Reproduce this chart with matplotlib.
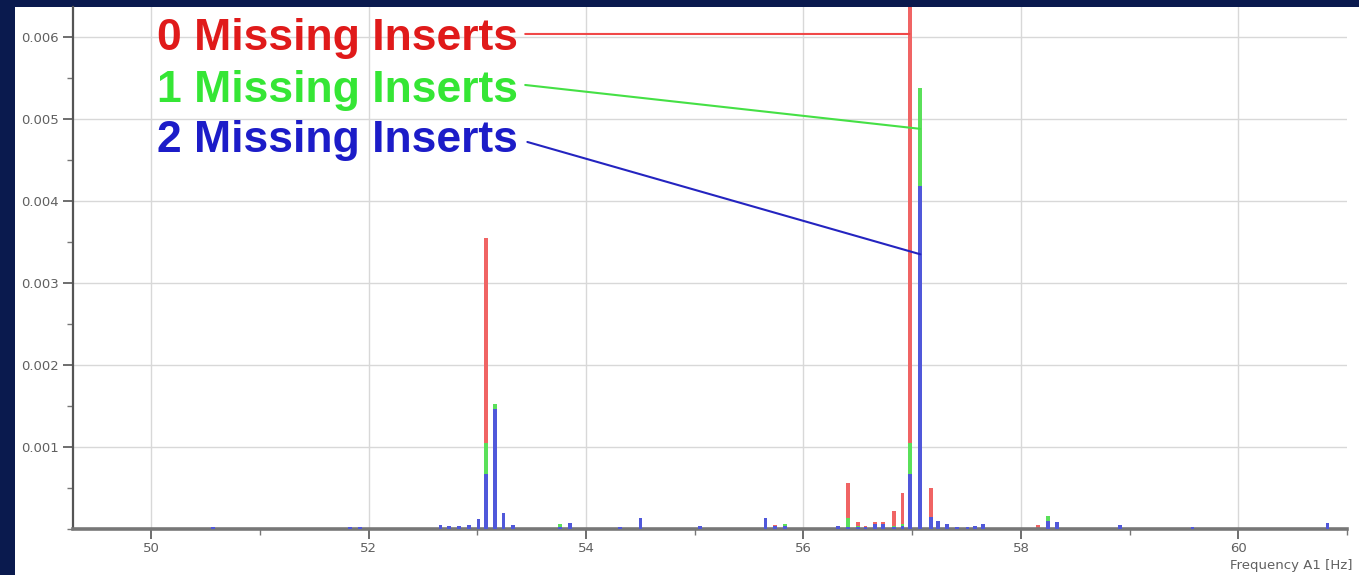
import matplotlib
matplotlib.use("Agg")
import matplotlib.pyplot as plt
from matplotlib.patches import Rectangle
from matplotlib.ticker import FixedLocator, MultipleLocator, FormatStrFormatter

# ---------------- data ----------------
freqs = [50.57, 51.83, 51.92, 52.66, 52.74, 52.83, 52.92, 53.01, 53.08, 53.16,
         53.24, 53.33, 53.76, 53.85, 54.31, 54.50, 55.05, 55.65, 55.74, 55.83,
         56.32, 56.41, 56.50, 56.57, 56.66, 56.73, 56.83, 56.91, 56.98, 57.07,
         57.17, 57.24, 57.32, 57.41, 57.51, 57.58, 57.65, 58.16, 58.25, 58.33,
         58.91, 59.58, 60.82]
zero_missing = [0, 0, 0.00002, 0, 0, 0, 0, 0.00008, 0.00355, 0.00035,
                0.00005, 0, 0, 0, 0, 0, 0, 0, 0.00005, 0,
                0, 0.00056, 0.00009, 0.00004, 0.00008, 0.00008, 0.00022, 0.00044, 0.0068, 0.0035,
                0.0005, 0.00005, 0.00004, 0.00002, 0, 0.00002, 0, 0.00005, 0.00004, 0,
                0, 0, 0]
one_missing = [0, 0, 0, 0, 0, 0, 0, 0.0001, 0.00105, 0.00152,
               0.00008, 0, 0.00006, 0.00004, 0, 0.00005, 0, 0.00004, 0, 0.00006,
               0, 0.00014, 0.00004, 0, 0.00003, 0.00002, 0.00004, 0.00006, 0.00105, 0.00538,
               0.00012, 0.00004, 0, 0, 0, 0, 0, 0, 0.00016, 0.00004,
               0, 0, 0]
two_missing = [0.00003, 0.00003, 0.00003, 0.00005, 0.00004, 0.00004, 0.00005, 0.00012, 0.00067, 0.00146,
               0.0002, 0.00005, 0.00003, 0.00007, 0.00003, 0.00013, 0.00004, 0.00013, 0.00004, 0.00004,
               0.00004, 0.00003, 0.00002, 0.00003, 0.00006, 0.00006, 0.00003, 0.00004, 0.00067, 0.00418,
               0.00015, 0.0001, 0.00006, 0.00003, 0.00002, 0.00004, 0.00006, 0, 0.0001, 0.00008,
               0.00005, 0.00002, 0.00007]

series_labels = ["0 Missing Inserts", "1 Missing Inserts", "2 Missing Inserts"]
y_ticks = [0.001, 0.002, 0.003, 0.004, 0.005, 0.006]
x_ticks = [50, 52, 54, 56, 58, 60]
x_label = "Frequency A1 [Hz]"

# ---------------- style ----------------
navy = "#0a1a4e"
bar_colors = ["#f06464", "#5ae05a", "#5058da"]
text_colors = ["#e01a1a", "#35e635", "#1c1cc8"]
line_colors = ["#f04848", "#45e045", "#2424c0"]

W, H = 1359, 575
fig = plt.figure(figsize=(W / 100, H / 100), dpi=100)
fig.patch.set_facecolor(navy)
fig.add_artist(Rectangle((15 / W, 0), 1 - 15 / W, 1 - 7 / H,
                         transform=fig.transFigure, facecolor="white",
                         edgecolor="none", zorder=0))

ax = fig.add_axes([73 / W, 46 / H, (1347 - 73) / W, (529 - 7) / H])
ax.set_facecolor("white")
ax.set_xlim(49.28, 61.0)
ax.set_ylim(0, 0.006366)

for vals, col, z in zip([zero_missing, one_missing, two_missing], bar_colors, [2, 3, 4]):
    ax.bar(freqs, vals, width=0.034, color=col, edgecolor="none", zorder=z)

ax.set_axisbelow(True)
ax.grid(True, which="major", color="#d8d8d8", lw=1.0)

ax.yaxis.set_major_locator(FixedLocator(y_ticks))
ax.yaxis.set_minor_locator(MultipleLocator(0.0005))
ax.yaxis.set_major_formatter(FormatStrFormatter("%.3f"))
ax.xaxis.set_major_locator(FixedLocator(x_ticks))
ax.xaxis.set_minor_locator(MultipleLocator(1))

ax.tick_params(axis="both", which="major", labelsize=9.5, labelcolor="#606060",
               color="#555555", length=7, width=1.2)
ax.tick_params(axis="both", which="minor", color="#777777", length=4, width=1.0)
ax.tick_params(axis="x", which="major", pad=2)
ax.tick_params(axis="y", which="major", pad=3)

for s in ["top", "right"]:
    ax.spines[s].set_visible(False)
ax.spines["left"].set_color("#555555")
ax.spines["left"].set_linewidth(1.6)
ax.spines["bottom"].set_color("#777777")
ax.spines["bottom"].set_linewidth(2.6)

fig.text(1352 / W, (575 - 565) / H, x_label, ha="right", va="center",
         fontsize=9.5, color="#606060")

# ---------------- annotations (layout) ----------------
label_pos = [(50.055, 0.00584), (50.055, 0.005207), (50.055, 0.00460)]
line_start = [(53.44, 0.006037), (53.44, 0.005415), (53.46, 0.00472)]
line_end = [(56.975, 0.006037), (57.075, 0.00488), (57.075, 0.00335)]

for lab, pos, c, lc, s, e in zip(series_labels, label_pos, text_colors, line_colors,
                                  line_start, line_end):
    ax.text(pos[0], pos[1], lab, color=c, fontsize=32, fontweight="bold",
            family=["Liberation Sans", "DejaVu Sans"], ha="left", va="baseline",
            zorder=6)
    ax.annotate("", xy=e, xytext=s,
                arrowprops=dict(arrowstyle="-", color=lc, lw=1.5,
                                shrinkA=0, shrinkB=0), zorder=6)

fig.savefig("out.png", dpi=100, facecolor=fig.get_facecolor())
